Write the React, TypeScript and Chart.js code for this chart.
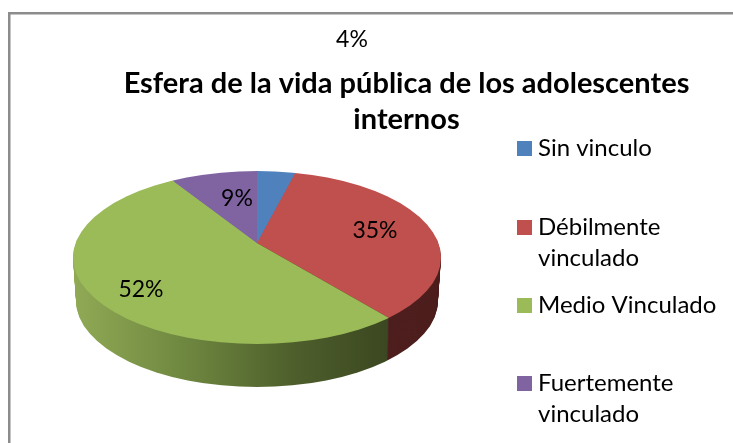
import React, { useEffect, useRef } from "react";
import { Chart, registerables } from "chart.js";

Chart.register(...registerables);

const categories = ["Sin vinculo", "Débilmente vinculado", "Medio Vinculado", "Fuertemente vinculado"];
const values = [4, 35, 52, 9];
const sliceColors = ["#4f81bd", "#c0504d", "#9bbb59", "#8064a2"];
const legendLines = [["Sin vinculo"], ["Débilmente", "vinculado"], ["Medio Vinculado"], ["Fuertemente", "vinculado"]];
const titleLines = ["Esfera de la vida pública de los adolescentes", "internos"];

const FONT = "Lato, Carlito, sans-serif";
const pie = { apexX: 257, apexY: 243, cx: 257, cy: 257.5, rx: 184, ry: 86.5, squash: 0.47, depth: 43, bigR: 300 };
const labelAt = [[352, 40], [375, 231], [141, 290], [237, 199]];
const legendY = [148.5, 227.5, 305.5, 383.5];
const legendLineH = 31;

const piePlugin = {
  id: "pie3d",
  beforeDatasetsDraw(chart: any) {
    const ctx = chart.ctx;
    const arcs = chart.getDatasetMeta(0).data;
    const arcX = arcs[0].x;
    const arcY = arcs[0].y;
    const place = (d: number, rx: number) => {
      ctx.beginPath();
      ctx.ellipse(pie.cx, pie.cy + d, rx, pie.ry, 0, 0, Math.PI * 2);
      ctx.clip();
      ctx.translate(pie.apexX - arcX, pie.apexY + d);
      ctx.scale(1, pie.squash);
      ctx.translate(0, -arcY);
    };
    const dx = arcX - pie.apexX;
    const green = ctx.createLinearGradient(75 + dx, 0, 385 + dx, 0);
    green.addColorStop(0, "#8fa955");
    green.addColorStop(0.35, "#6f8840");
    green.addColorStop(0.7, "#4e5f2c");
    green.addColorStop(1, "#3c4821");
    const sideFill = [sliceColors[0], "#4e1f1e", green, sliceColors[3]];
    for (let d = pie.depth; d >= 1; d--) {
      const rx = pie.rx - 3 * (d / pie.depth);
      ctx.save();
      place(d, rx);
      arcs.forEach((arc: any, i: number) => {
        const saved = arc.options;
        arc.options = { ...saved, backgroundColor: sideFill[i] };
        arc.draw(ctx);
        arc.options = saved;
      });
      ctx.restore();
    }
    ctx.save();
    place(0, pie.rx);
  },
  afterDatasetsDraw(chart: any) {
    const ctx = chart.ctx;
    ctx.restore();
    ctx.save();
    ctx.fillStyle = "#000";
    ctx.textAlign = "center";
    ctx.textBaseline = "middle";
    ctx.font = `23px ${FONT}`;
    values.forEach((v, i) => ctx.fillText(`${v}%`, labelAt[i][0], labelAt[i][1]));
    ctx.textAlign = "left";
    ctx.font = `24px ${FONT}`;
    legendLines.forEach((lines, i) => {
      ctx.fillStyle = sliceColors[i];
      ctx.fillRect(517, legendY[i] - 7.5, 15, 15);
      ctx.fillStyle = "#000";
      lines.forEach((t, j) => ctx.fillText(t, 538, legendY[i] + j * legendLineH));
    });
    ctx.fillStyle = "#8c8c8c";
    ctx.fillRect(8, 12, 725, 2.5);
    ctx.fillRect(8, 12, 2.5, 431);
    ctx.restore();
  },
};

export default function App() {
  const ref = useRef<HTMLCanvasElement>(null);
  useEffect(() => {
    document.body.style.margin = "0";
    const chart = new Chart(ref.current!, {
      type: "pie",
      data: {
        labels: categories,
        datasets: [{ data: values, backgroundColor: sliceColors, borderWidth: 0, radius: pie.bigR, clip: false } as any],
      },
      options: {
        responsive: false,
        animation: false,
        layout: { padding: { left: 80, top: 50 } },
        plugins: {
          legend: { display: false },
          tooltip: { enabled: false },
          title: {
            display: true,
            text: titleLines,
            color: "#000",
            font: { family: FONT, size: 29, weight: "bold", lineHeight: 1.24 },
            padding: { top: 16, bottom: 0 },
          },
        },
      },
      plugins: [piePlugin],
    } as any);
    return () => chart.destroy();
  }, []);
  return (
    <div style={{ width: 733, height: 443, overflow: "hidden", background: "#fff" }}>
      <canvas ref={ref} width={733} height={443} style={{ display: "block" }} />
    </div>
  );
}
